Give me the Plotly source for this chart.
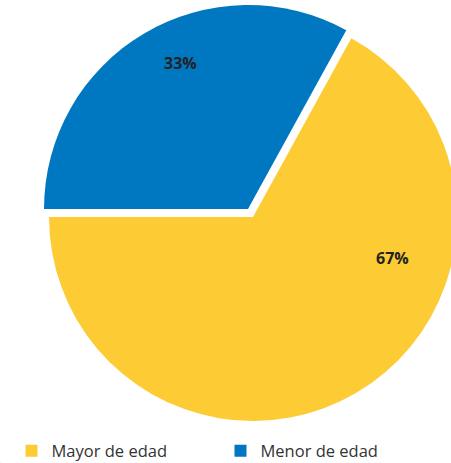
import plotly.graph_objects as go

labels = ["Mayor de edad", "Menor de edad"]
values = [67, 33]
colors = ["#FDCB33", "#0078C1"]
transparent = "rgba(0,0,0,0)"

# the reference pie runs past the right edge of the 451px window,
# so the figure is a little wider than the window and gets cropped there
W, H = 460, 463
R = 204                      # pie radius in px
centre_main = (253, 217)     # centre of the yellow part (px from top-left)
centre_pulled = (248, 209)   # centre of the pulled-out blue slice


def clamp(v):
    return min(1.0, max(0.0, v))


def domain_for(cx, cy, r):
    return dict(x=[clamp((cx - r) / W), clamp((cx + r) / W)],
                y=[clamp(1 - (cy + r) / H), clamp(1 - (cy - r) / H)])


common = dict(
    labels=labels, values=values, sort=False, direction="clockwise",
    rotation=28.8, textinfo="none",
)

fig = go.Figure()
# legend-only trace (tiny, carries the legend colours)
fig.add_trace(go.Pie(
    **common,
    marker=dict(colors=colors, line=dict(width=0)),
    domain=dict(x=[0, 0.001], y=[0, 0.001]),
    showlegend=True, hoverinfo="skip",
))
# yellow slice
fig.add_trace(go.Pie(
    **common,
    marker=dict(colors=[colors[0], transparent], line=dict(width=0)),
    domain=domain_for(*centre_main, R),
    showlegend=False, hoverinfo="label+percent",
))
# blue slice, pulled out
fig.add_trace(go.Pie(
    **common,
    marker=dict(colors=[transparent, colors[1]], line=dict(width=0)),
    domain=domain_for(*centre_pulled, R),
    showlegend=False, hoverinfo="label+percent",
))

# percentage labels
total = sum(values)
label_pos = [(392, 258), (180, 63)]
for v, (px, py) in zip(values, label_pos):
    fig.add_annotation(
        x=px / W, y=1 - py / H, xref="paper", yref="paper",
        xanchor="center", yanchor="middle",
        text=f"{round(100 * v / total)}%", showarrow=False,
        font=dict(family="Open Sans", size=16, color="#222222", weight="bold"),
    )

fig.update_layout(
    width=W, height=H,
    margin=dict(l=0, r=0, t=0, b=0, autoexpand=False),
    paper_bgcolor="white",
    plot_bgcolor="white",
    showlegend=True,
    legend=dict(
        orientation="h",
        x=11.5 / W, y=1 - 451 / H, xanchor="left", yanchor="middle",
        font=dict(family="Open Sans", size=16.5, color="#333333"),
        entrywidth=164, entrywidthmode="pixels",
        itemclick=False, itemdoubleclick=False,
        traceorder="normal",
    ),
)

fig.write_html(
    "out.html",
    config={"displayModeBar": False},
    post_script="document.body.style.margin='0';document.body.style.overflow='hidden';",
)
